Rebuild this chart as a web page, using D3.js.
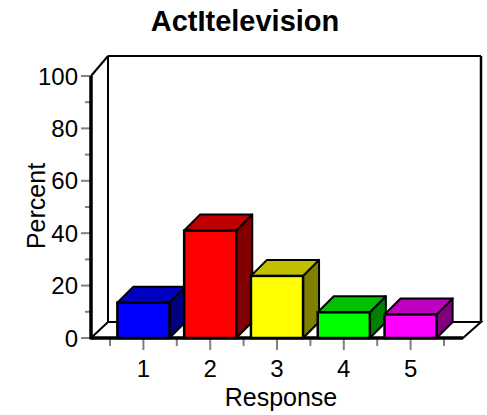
<!DOCTYPE html>
<html><head><meta charset="utf-8">
<script src="https://cdn.jsdelivr.net/npm/d3@7"></script>
<style>body{margin:0;background:#fff}svg{display:block}text{font-family:"Liberation Sans",Arial,sans-serif;fill:#000}</style>
</head><body>
<script>
const title = "ActItelevision";
const categories = ["1","2","3","4","5"];
const values = [13.5, 41.0, 23.7, 9.8, 9.0];
const frontColors = ["#0000ff","#ff0000","#ffff00","#00ff00","#ff00ff"];
const topColors = ["#0000c0","#c00000","#c0c000","#00c000","#c000c0"];
const sideColors = ["#000080","#800000","#808000","#008000","#800080"];
const yTicks = [0,20,40,60,80,100];
const yMinorTicks = [10,30,50,70,90];
const xLabel = "Response";
const yLabel = "Percent";

const W = 487, H = 415;
const svg = d3.select("body").append("svg").attr("width", W).attr("height", H);

const x = d3.scaleBand().domain(categories).range([110, 444]).paddingInner(0.22).paddingOuter(0.11);
const y = d3.scaleLinear().domain([0, 100]).range([338, 76]);
const dx = 16, dy = -16;
const x0 = 91, x1 = 463;
const wallTop = 56;

// back wall
const g = svg.append("g");
g.append("line").attr("x1", x0 + 17).attr("x2", x0 + 17).attr("y1", wallTop).attr("y2", y(0) + dy).attr("stroke", "#000").attr("stroke-width", 2);
g.append("line").attr("x1", x1 + 18).attr("x2", x1 + 18).attr("y1", wallTop).attr("y2", y(0) + dy).attr("stroke", "#000").attr("stroke-width", 2.5);
g.append("line").attr("x1", x0 + 17).attr("x2", x1 + 18).attr("y1", wallTop).attr("y2", wallTop).attr("stroke", "#000").attr("stroke-width", 2);
g.append("line").attr("x1", x0).attr("x2", x0 + 17).attr("y1", y(100)).attr("y2", wallTop).attr("stroke", "#000").attr("stroke-width", 2);

// floor
g.append("path")
  .attr("d", `M${x0},${y(0)}L${x0 + 17},${y(0) + dy}L${x1 + 18},${y(0) + dy}L${x1},${y(0)}Z`)
  .attr("fill", "#fff").attr("stroke", "#000").attr("stroke-width", 2);

// y ticks
g.selectAll(".ymaj").data(yTicks).join("line")
  .attr("x1", 81).attr("x2", x0).attr("y1", d => y(d)).attr("y2", d => y(d))
  .attr("stroke", "#808080").attr("stroke-width", 2);
g.selectAll(".ymin").data(yMinorTicks).join("line")
  .attr("x1", 85).attr("x2", x0).attr("y1", d => y(d)).attr("y2", d => y(d))
  .attr("stroke", "#808080").attr("stroke-width", 2);
g.selectAll(".ylab").data(yTicks).join("text")
  .attr("x", 78).attr("y", d => y(d)).attr("dy", "0.36em")
  .attr("text-anchor", "end").attr("font-size", 24).text(d => d);

// x ticks
const step = x.step();
const minorX = d3.range(categories.length + 1).map(i => x.range()[0] + i * step);
g.selectAll(".xmin").data(minorX).join("line")
  .attr("x1", d => d).attr("x2", d => d).attr("y1", y(0)).attr("y2", y(0) + 8)
  .attr("stroke", "#808080").attr("stroke-width", 2);
g.selectAll(".xmaj").data(categories).join("line")
  .attr("x1", d => x(d) + x.bandwidth() / 2).attr("x2", d => x(d) + x.bandwidth() / 2)
  .attr("y1", y(0)).attr("y2", y(0) + 12)
  .attr("stroke", "#808080").attr("stroke-width", 2);
g.selectAll(".xlab").data(categories).join("text")
  .attr("x", d => x(d) + x.bandwidth() / 2).attr("y", 377)
  .attr("text-anchor", "middle").attr("font-size", 24).text(d => d);

// axis lines (thick)
g.append("line").attr("x1", x0).attr("x2", x0).attr("y1", y(100)).attr("y2", y(0) + 1.5).attr("stroke", "#000").attr("stroke-width", 3.5);
g.append("line").attr("x1", x0).attr("x2", x1).attr("y1", y(0)).attr("y2", y(0)).attr("stroke", "#000").attr("stroke-width", 3.5);

// bars
const bars = svg.append("g").selectAll("g").data(categories).join("g");
bars.each(function(c, i) {
  const b = d3.select(this);
  const bx = x(c), bw = x.bandwidth(), by = y(values[i]), b0 = y(0);
  b.append("path").attr("d", `M${bx + bw},${by}L${bx + bw + dx},${by + dy}L${bx + bw + dx},${b0 + dy}L${bx + bw},${b0}Z`)
    .attr("fill", sideColors[i]).attr("stroke", "#000").attr("stroke-width", 2).attr("stroke-linejoin", "round");
  b.append("path").attr("d", `M${bx},${by}L${bx + dx},${by + dy}L${bx + bw + dx},${by + dy}L${bx + bw},${by}Z`)
    .attr("fill", topColors[i]).attr("stroke", "#000").attr("stroke-width", 2).attr("stroke-linejoin", "round");
  b.append("rect").attr("x", bx).attr("y", by).attr("width", bw).attr("height", b0 - by)
    .attr("fill", frontColors[i]).attr("stroke", "#000").attr("stroke-width", 2.5);
});

// titles
svg.append("text").attr("x", 245).attr("y", 31).attr("text-anchor", "middle")
  .attr("font-size", 29).attr("font-weight", "bold").text(title);
svg.append("text").attr("x", 281).attr("y", 406).attr("text-anchor", "middle")
  .attr("font-size", 25).text(xLabel);
svg.append("text").attr("transform", "translate(45,206) rotate(-90)").attr("text-anchor", "middle")
  .attr("font-size", 25).text(yLabel);
</script>
</body></html>
